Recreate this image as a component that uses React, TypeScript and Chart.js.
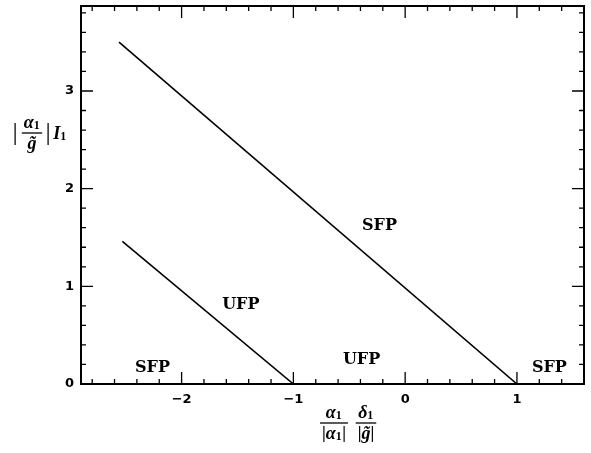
import React, { useEffect, useRef } from "react";
import { Chart, registerables } from "chart.js";

Chart.register(...registerables);

// ---- data ----
const upperLineX = [-2.56, 1];
const upperLineY = [3.5, 0];
const lowerLineX = [-2.53, -1];
const lowerLineY = [1.46, 0];

const xTickValues = [-2, -1, 0, 1];
const yTickValues = [0, 1, 2, 3];
const xRange = [-2.9, 1.6];
const yRange = [0, 3.87];
const minorStep = 0.2;

const regionLabels = ["SFP", "UFP", "UFP", "SFP", "SFP"];
const regionX = [-2.26, -1.47, -0.39, -0.23, 1.29];
const regionY = [0.17, 0.81, 0.25, 1.62, 0.17];

type Part = { t: string; sub?: boolean };

const MAIN_FONT = "bold italic 18px 'Liberation Serif'";
const SUB_FONT = "bold 12px 'Liberation Serif'";
const UP_FONT = "bold 17px 'Liberation Serif'";

function partFont(p: Part) {
  if (p.sub) return SUB_FONT;
  if (p.t === "|") return UP_FONT;
  return MAIN_FONT;
}

function measureParts(ctx: CanvasRenderingContext2D, parts: Part[]) {
  let w = 0;
  for (const p of parts) {
    ctx.font = partFont(p);
    w += ctx.measureText(p.t).width + (p.sub ? 0.5 : 0);
  }
  return w;
}

function drawParts(ctx: CanvasRenderingContext2D, parts: Part[], cx: number, cy: number) {
  const w = measureParts(ctx, parts);
  let x = cx - w / 2;
  ctx.textBaseline = "middle";
  ctx.textAlign = "left";
  for (const p of parts) {
    ctx.font = partFont(p);
    ctx.fillText(p.t, x, p.sub ? cy + 3 : cy);
    x += ctx.measureText(p.t).width + (p.sub ? 0.5 : 0);
  }
}

function drawFraction(
  ctx: CanvasRenderingContext2D,
  num: Part[],
  den: Part[],
  cx: number,
  cy: number
) {
  const w = Math.max(measureParts(ctx, num), measureParts(ctx, den)) + 4;
  drawParts(ctx, num, cx, cy - 10);
  drawParts(ctx, den, cx, cy + 11);
  ctx.beginPath();
  ctx.lineWidth = 1.3;
  ctx.moveTo(cx - w / 2, cy);
  ctx.lineTo(cx + w / 2, cy);
  ctx.stroke();
  return w;
}

const framePlugin = {
  id: "framePlugin",
  afterDraw(chart: any) {
    const ctx: CanvasRenderingContext2D = chart.ctx;
    const { left, right, top, bottom } = chart.chartArea;
    const xs = chart.scales.x;
    const ys = chart.scales.y;
    ctx.save();
    ctx.strokeStyle = "#000";
    ctx.fillStyle = "#000";
    // frame
    ctx.lineWidth = 2;
    ctx.strokeRect(left, top, right - left, bottom - top);
    // ticks
    ctx.lineWidth = 1.3;
    const majorLen = 12;
    const minorLen = 5;
    const xStart = Math.ceil(xRange[0] / minorStep - 1e-6);
    const xEnd = Math.floor(xRange[1] / minorStep + 1e-6);
    ctx.beginPath();
    for (let i = xStart; i <= xEnd; i++) {
      const v = i * minorStep;
      const isMajor = Math.abs(v - Math.round(v)) < 1e-6;
      const len = isMajor ? majorLen : minorLen;
      const px = xs.getPixelForValue(v);
      if (px <= left + 1 || px >= right - 1) continue;
      ctx.moveTo(px, bottom);
      ctx.lineTo(px, bottom - len);
      ctx.moveTo(px, top);
      ctx.lineTo(px, top + len);
    }
    const yStart = Math.ceil(yRange[0] / minorStep - 1e-6);
    const yEnd = Math.floor(yRange[1] / minorStep + 1e-6);
    for (let i = yStart; i <= yEnd; i++) {
      const v = i * minorStep;
      const isMajor = Math.abs(v - Math.round(v)) < 1e-6;
      const len = isMajor ? majorLen : minorLen;
      const py = ys.getPixelForValue(v);
      if (py <= top + 1 || py >= bottom - 1) continue;
      ctx.moveTo(left, py);
      ctx.lineTo(left + len, py);
      ctx.moveTo(right, py);
      ctx.lineTo(right - len, py);
    }
    ctx.stroke();

    // region labels
    ctx.font = "bold 16px 'DejaVu Serif'";
    ctx.textAlign = "center";
    ctx.textBaseline = "middle";
    for (let i = 0; i < regionLabels.length; i++) {
      ctx.fillText(
        regionLabels[i],
        xs.getPixelForValue(regionX[i]),
        ys.getPixelForValue(regionY[i])
      );
    }

    // x-axis title: α1/|α1|  δ1/|g̃|
    const tcy = bottom + 39;
    drawFraction(
      ctx,
      [{ t: "α" }, { t: "1", sub: true }],
      [{ t: "|" }, { t: "α" }, { t: "1", sub: true }, { t: "|" }],
      334,
      tcy
    );
    drawFraction(
      ctx,
      [{ t: "δ" }, { t: "1", sub: true }],
      [{ t: "|" }, { t: "g\u0303" }, { t: "|" }],
      366,
      tcy
    );

    // y-axis title: |α1/g̃| I1
    const ycy = 133;
    ctx.font = "26px 'Liberation Serif'";
    ctx.textAlign = "center";
    ctx.textBaseline = "middle";
    ctx.fillText("|", 15, ycy);
    drawFraction(ctx, [{ t: "α" }, { t: "1", sub: true }], [{ t: "g\u0303" }], 32, ycy);
    ctx.font = "26px 'Liberation Serif'";
    ctx.textAlign = "center";
    ctx.textBaseline = "middle";
    ctx.fillText("|", 48, ycy);
    drawParts(ctx, [{ t: "I" }, { t: "1", sub: true }], 60, ycy + 1);
    ctx.restore();
  },
};

export default function App() {
  const ref = useRef<HTMLCanvasElement | null>(null);
  useEffect(() => {
    document.body.style.margin = "0";
    document.body.style.overflow = "hidden";
    if (!ref.current) return;
    const chart = new Chart(ref.current, {
      type: "line",
      data: {
        datasets: [
          {
            data: upperLineX.map((x, i) => ({ x, y: upperLineY[i] })),
            borderColor: "#000",
            borderWidth: 1.6,
            pointRadius: 0,
            fill: false,
          },
          {
            data: lowerLineX.map((x, i) => ({ x, y: lowerLineY[i] })),
            borderColor: "#000",
            borderWidth: 1.6,
            pointRadius: 0,
            fill: false,
          },
        ],
      },
      options: {
        responsive: false,
        animation: false,
        layout: { padding: { left: 0, top: 6, right: 7, bottom: 0 } },
        plugins: { legend: { display: false }, tooltip: { enabled: false } },
        scales: {
          x: {
            type: "linear",
            min: xRange[0],
            max: xRange[1],
            grid: { display: false, drawTicks: false },
            border: { display: false },
            afterBuildTicks: (s: any) => {
              s.ticks = xTickValues.map((v) => ({ value: v }));
            },
            afterFit: (s: any) => {
              s.height = 69;
              s.paddingLeft = 0;
              s.paddingRight = 0;
            },
            ticks: {
              padding: 8,
              color: "#000",
              font: { family: "'DejaVu Sans'", weight: "bold", size: 13 },
              callback: (v: any) => String(v).replace("-", "\u2212"),
            },
          },
          y: {
            type: "linear",
            min: yRange[0],
            max: yRange[1],
            grid: { display: false, drawTicks: false },
            border: { display: false },
            afterBuildTicks: (s: any) => {
              s.ticks = yTickValues.map((v) => ({ value: v }));
            },
            afterFit: (s: any) => {
              s.width = 81;
              s.paddingTop = 0;
              s.paddingBottom = 0;
            },
            ticks: {
              padding: 7,
              color: "#000",
              font: { family: "'DejaVu Sans'", weight: "bold", size: 13 },
            },
          },
        },
      },
      plugins: [framePlugin],
    } as any);
    return () => chart.destroy();
  }, []);
  return (
    <div style={{ width: 591, height: 453 }}>
      <canvas ref={ref} width={591} height={453} />
    </div>
  );
}
